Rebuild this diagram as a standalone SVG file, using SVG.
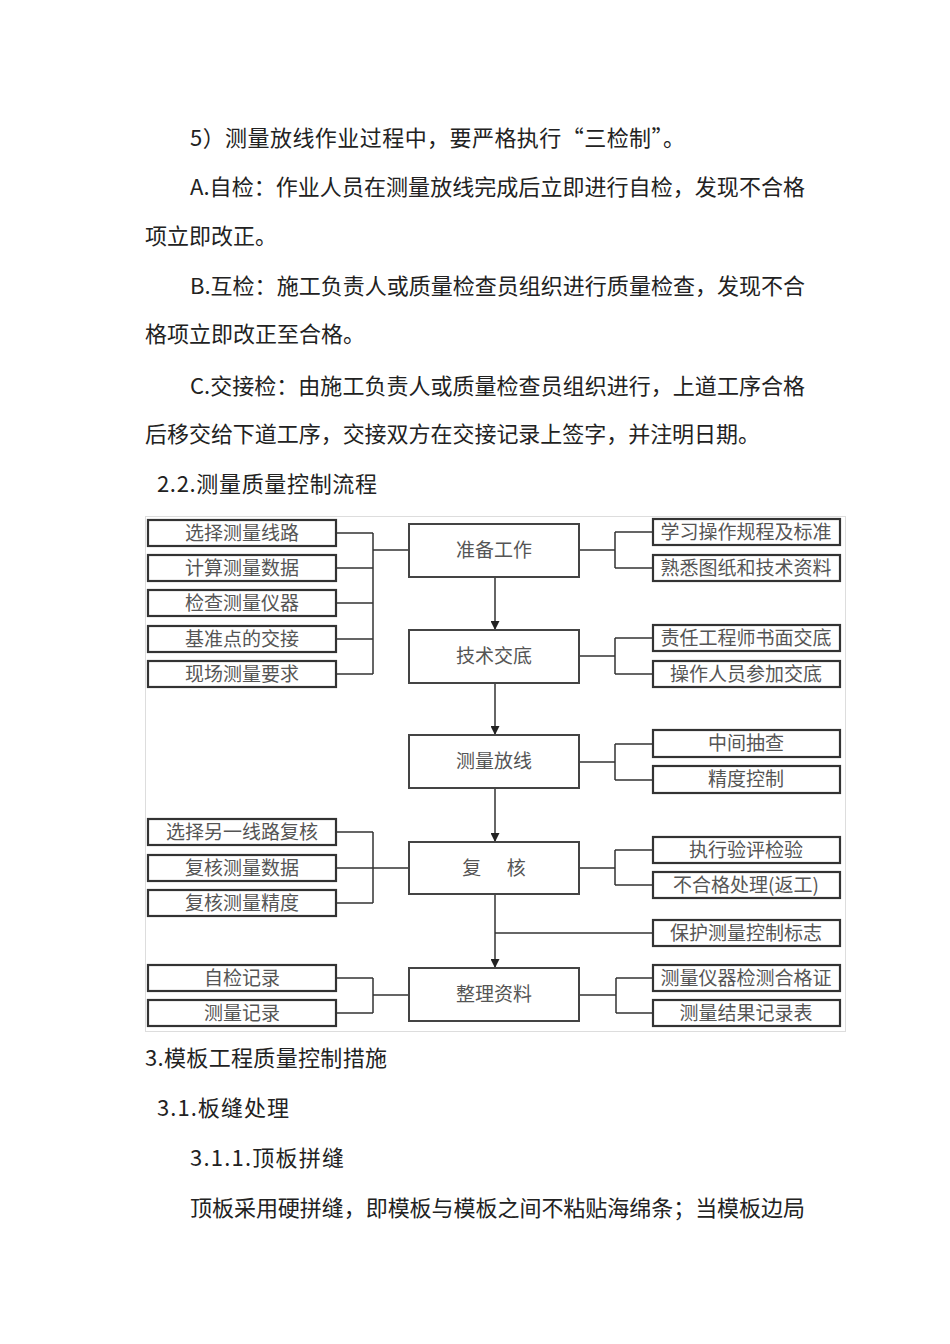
<svg xmlns="http://www.w3.org/2000/svg" width="950" height="1344" viewBox="0 0 950 1344">
<defs>
<style>
.body{font-family:"Noto Sans CJK SC","Noto Sans CJK JP",sans-serif;font-size:22px;fill:#222}
.lbl{font-family:"Noto Sans CJK SC","Noto Sans CJK JP",sans-serif;font-size:19px;fill:#555;text-anchor:middle}
.cbox{fill:#fff;stroke:#444;stroke-width:2}
.sbox{fill:#fff;stroke:#333;stroke-width:2.2}
.ln{fill:none;stroke:#333;stroke-width:1.5}
</style>
<marker id="ah" viewBox="0 0 10 10" refX="10" refY="5" markerWidth="9" markerHeight="9" markerUnits="userSpaceOnUse" orient="auto">
<path d="M0,0 L10,5 L0,10 z" fill="#222"/>
</marker>
</defs>
<rect width="950" height="1344" fill="#fff"/>

<g id="body-text">
<text class="body" x="190" y="146" textLength="495">5）测量放线作业过程中，要严格执行“三检制”。</text>
<text class="body" x="190" y="195" textLength="615">A.自检：作业人员在测量放线完成后立即进行自检，发现不合格</text>
<text class="body" x="145" y="244">项立即改正。</text>
<text class="body" x="190" y="294" textLength="615">B.互检：施工负责人或质量检查员组织进行质量检查，发现不合</text>
<text class="body" x="145" y="342">格项立即改正至合格。</text>
<text class="body" x="190" y="394" textLength="615">C.交接检：由施工负责人或质量检查员组织进行，上道工序合格</text>
<text class="body" x="145" y="442" textLength="615">后移交给下道工序，交接双方在交接记录上签字，并注明日期。</text>
<text class="body" x="157" y="492" textLength="220">2.2.测量质量控制流程</text>
<text class="body" x="145" y="1066" textLength="242">3.模板工程质量控制措施</text>
<text class="body" x="157" y="1116" textLength="132">3.1.板缝处理</text>
<text class="body" x="190" y="1166" textLength="154">3.1.1.顶板拼缝</text>
<text class="body" x="190" y="1216" textLength="615">顶板采用硬拼缝，即模板与模板之间不粘贴海绵条；当模板边局</text>
</g>

<rect id="frame" x="145.5" y="516.5" width="700" height="515" fill="none" stroke="#ddd" stroke-width="1"/>

<g id="connectors">
<line class="ln" x1="495" y1="577" x2="495" y2="630" marker-end="url(#ah)"/>
<line class="ln" x1="495" y1="683" x2="495" y2="735" marker-end="url(#ah)"/>
<line class="ln" x1="495" y1="788" x2="495" y2="842" marker-end="url(#ah)"/>
<line class="ln" x1="495" y1="894" x2="495" y2="968" marker-end="url(#ah)"/>
<line class="ln" x1="495" y1="933" x2="653" y2="933"/>
<path class="ln" d="M336,533 H373 M336,568 H373 M336,603 H373 M336,639 H373 M336,674 H373 M373,533 V674 M373,550 H409"/>
<path class="ln" d="M579,550 H615 M615,532 V568 M615,532 H653 M615,568 H653"/>
<path class="ln" d="M579,656 H615 M615,638 V674 M615,638 H653 M615,674 H653"/>
<path class="ln" d="M579,762 H615 M615,744 V780 M615,744 H653 M615,780 H653"/>
<path class="ln" d="M336,832 H373 M336,868 H373 M336,903 H373 M373,832 V903 M373,868 H409"/>
<path class="ln" d="M579,868 H615 M615,850 V885 M615,850 H653 M615,885 H653"/>
<path class="ln" d="M336,978 H373 M336,1013 H373 M373,978 V1013 M373,995 H409"/>
<path class="ln" d="M579,995 H616 M616,978 V1013 M616,978 H653 M616,1013 H653"/>
</g>

<g id="n-zhunbei"><rect class="cbox" x="409" y="524" width="170" height="53"/><text class="lbl" x="494" y="557">准备工作</text></g>
<g id="n-jishu"><rect class="cbox" x="409" y="630" width="170" height="53"/><text class="lbl" x="494" y="663">技术交底</text></g>
<g id="n-celiang"><rect class="cbox" x="409" y="735" width="170" height="53"/><text class="lbl" x="494" y="768">测量放线</text></g>
<g id="n-fuhe"><rect class="cbox" x="409" y="842" width="170" height="52"/><text class="lbl" x="494" y="875" xml:space="preserve">复      核</text></g>
<g id="n-zhengli"><rect class="cbox" x="409" y="968" width="170" height="53"/><text class="lbl" x="494" y="1001">整理资料</text></g>

<g id="l1"><rect class="sbox" x="148" y="520" width="188" height="26"/><text class="lbl" x="242" y="540">选择测量线路</text></g>
<g id="l2"><rect class="sbox" x="148" y="555" width="188" height="26"/><text class="lbl" x="242" y="575">计算测量数据</text></g>
<g id="l3"><rect class="sbox" x="148" y="590" width="188" height="26"/><text class="lbl" x="242" y="610">检查测量仪器</text></g>
<g id="l4"><rect class="sbox" x="148" y="626" width="188" height="26"/><text class="lbl" x="242" y="646">基准点的交接</text></g>
<g id="l5"><rect class="sbox" x="148" y="661" width="188" height="26"/><text class="lbl" x="242" y="681">现场测量要求</text></g>
<g id="l6"><rect class="sbox" x="148" y="819" width="188" height="26"/><text class="lbl" x="242" y="839">选择另一线路复核</text></g>
<g id="l7"><rect class="sbox" x="148" y="855" width="188" height="26"/><text class="lbl" x="242" y="875">复核测量数据</text></g>
<g id="l8"><rect class="sbox" x="148" y="890" width="188" height="26"/><text class="lbl" x="242" y="910">复核测量精度</text></g>
<g id="l9"><rect class="sbox" x="148" y="965" width="188" height="26"/><text class="lbl" x="242" y="985">自检记录</text></g>
<g id="l10"><rect class="sbox" x="148" y="1000" width="188" height="26"/><text class="lbl" x="242" y="1020">测量记录</text></g>

<g id="r1"><rect class="sbox" x="653" y="519" width="187" height="26"/><text class="lbl" x="746" y="539">学习操作规程及标准</text></g>
<g id="r2"><rect class="sbox" x="653" y="555" width="187" height="26"/><text class="lbl" x="746" y="575">熟悉图纸和技术资料</text></g>
<g id="r3"><rect class="sbox" x="653" y="625" width="187" height="26"/><text class="lbl" x="746" y="645">责任工程师书面交底</text></g>
<g id="r4"><rect class="sbox" x="653" y="661" width="187" height="26"/><text class="lbl" x="746" y="681">操作人员参加交底</text></g>
<g id="r5"><rect class="sbox" x="653" y="730" width="187" height="27"/><text class="lbl" x="746" y="750">中间抽查</text></g>
<g id="r6"><rect class="sbox" x="653" y="766" width="187" height="27"/><text class="lbl" x="746" y="786">精度控制</text></g>
<g id="r7"><rect class="sbox" x="653" y="837" width="187" height="26"/><text class="lbl" x="746" y="857">执行验评检验</text></g>
<g id="r8"><rect class="sbox" x="653" y="872" width="187" height="26"/><text class="lbl" x="746" y="892">不合格处理(返工)</text></g>
<g id="r9"><rect class="sbox" x="653" y="920" width="187" height="26"/><text class="lbl" x="746" y="940">保护测量控制标志</text></g>
<g id="r10"><rect class="sbox" x="653" y="965" width="187" height="26"/><text class="lbl" x="746" y="985">测量仪器检测合格证</text></g>
<g id="r11"><rect class="sbox" x="653" y="1000" width="187" height="26"/><text class="lbl" x="746" y="1020">测量结果记录表</text></g>
</svg>
